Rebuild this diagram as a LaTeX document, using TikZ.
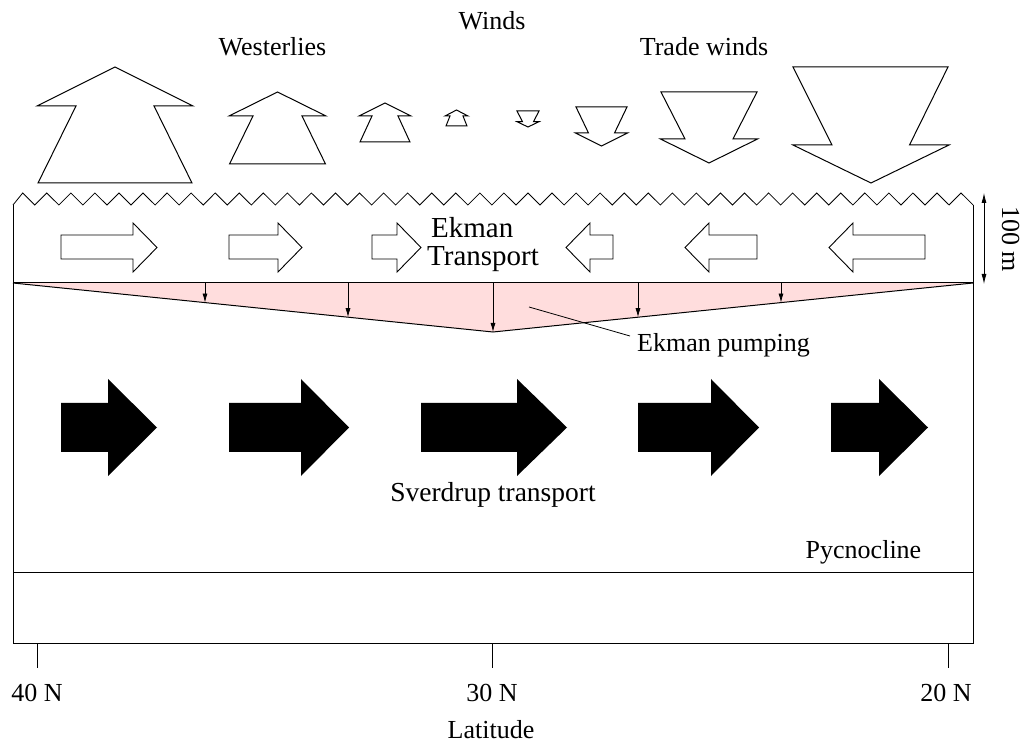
\documentclass[tikz,border=0pt]{standalone}
\usepackage{fontspec}
\setmainfont{Liberation Serif}
\usetikzlibrary{arrows.meta}
\definecolor{pumpfill}{RGB}{255,221,221}

\begin{document}
\begin{tikzpicture}[x=1pt,y=-1pt]

    \tikzstyle{ocean}+=[
        line width = 1pt
    ]
    \tikzstyle{wind}+=[
        draw,
        line width = 1pt,
        fill=white
    ]
    \tikzstyle{ekman}+=[
        draw,
        line width = 0.9pt,
        fill=white
    ]
    \tikzstyle{sverdrup}+=[
        fill=black
    ]
    \tikzstyle{pump}+=[
        -{Latex[length=9pt,width=5pt]},
        line width = 0.8pt
    ]
    \tikzstyle{depth}+=[
        {Latex[length=10pt,width=5pt]}-{Latex[length=10pt,width=5pt]},
        line width = 0.8pt
    ]
    \tikzstyle{txt}+=[
        font=\fontsize{26}{30}\selectfont,
        inner sep=0pt,
        anchor=base
    ]

    \useasboundingbox (0,0) rectangle (1021,743);

    % ----------------------------------------------------------------------------
    \coordinate(surfw) at (13,205);
    \coordinate(surfe) at (973,205);
    \coordinate(ekw) at (13,283);
    \coordinate(eke) at (973,283);
    \coordinate(pumpbot) at (493,332);
    \coordinate(pycw) at (13,572);
    \coordinate(pyce) at (973,572);
    \coordinate(botw) at (13,643);
    \coordinate(bote) at (973,643);
    \coordinate(depthtop) at (984,193);
    \coordinate(depthbot) at (984,284);
    \coordinate(pumpref) at (529,307);

    % ----------------------------------------------------------------------------
    \fill[pumpfill] (ekw) -- (eke) -- (pumpbot) -- cycle;
    \draw[ocean] (ekw) -- (pumpbot) -- (eke);
    \draw[ocean] (surfw) -- (botw) -- (bote) -- (surfe);
    \draw[ocean] (ekw) -- (eke);
    \draw[ocean] (pycw) -- (pyce);
    \draw[ocean,line width=0.8pt] (surfw) \foreach \k in {0,...,39} {
        -- ({22.7+24.06*\k},193) -- ({34.78+24.06*\k},205) };

    % ----------------------------------------------------------------------------
    \draw[pump] (205,283) -- (205,302.6);
    \draw[pump] (348,283) -- (348,317.2);
    \draw[pump] (493,283) -- (pumpbot);
    \draw[pump] (638,283) -- (638,317.2);
    \draw[pump] (781,283) -- (781,302.6);
    \draw[depth] (depthtop) -- (depthbot);

    % ----------------------------------------------------------------------------
    \draw[wind] (115,67) -- (193,106) -- (154,106) -- (192,183) -- (38,183) -- (76,106) -- (37,106) -- cycle;
    \draw[wind] (277.5,92) -- (326,116) -- (302,116) -- (325.5,164) -- (229.5,164) -- (253,116) -- (229,116) -- cycle;
    \draw[wind] (385,103) -- (411,116) -- (398,116) -- (410,142) -- (360,142) -- (372,116) -- (359,116) -- cycle;
    \draw[wind] (456.5,110) -- (468,116) -- (463,116) -- (467,126) -- (446,126) -- (450,116) -- (445,116) -- cycle;
    \draw[wind] (528,127) -- (539,121.7) -- (533.5,121.7) -- (539,111) -- (517,111) -- (522.5,121.7) -- (517,121.7) -- cycle;
    \draw[wind] (601.5,146) -- (627.5,133) -- (614.5,133) -- (627,107) -- (576,107) -- (588.5,133) -- (575.5,133) -- cycle;
    \draw[wind] (709,163) -- (757.5,139) -- (733,139) -- (757,92) -- (661,92) -- (685,139) -- (660.5,139) -- cycle;
    \draw[wind] (871,183) -- (949,145) -- (909.5,145) -- (948,67) -- (793,67) -- (832,145) -- (793,145) -- cycle;

    % ----------------------------------------------------------------------------
    \draw[ekman] (61,235) -- (133,235) -- (133,223) -- (157,247.5) -- (133,272) -- (133,259) -- (61,259) -- cycle;
    \draw[ekman] (229,235) -- (278,235) -- (278,223) -- (302,247.5) -- (278,272) -- (278,259) -- (229,259) -- cycle;
    \draw[ekman] (372,235) -- (397,235) -- (397,223) -- (421,247.5) -- (397,272) -- (397,259) -- (372,259) -- cycle;
    \draw[ekman] (613,235) -- (590,235) -- (590,223) -- (566,247.5) -- (590,272) -- (590,259) -- (613,259) -- cycle;
    \draw[ekman] (757,235) -- (709,235) -- (709,223) -- (685,247.5) -- (709,272) -- (709,259) -- (757,259) -- cycle;
    \draw[ekman] (925,235) -- (853,235) -- (853,223) -- (829,247.5) -- (853,272) -- (853,259) -- (925,259) -- cycle;

    % ----------------------------------------------------------------------------
    \fill[sverdrup] (61,403) -- (108,403) -- (108,379) -- (157,427.5) -- (108,476) -- (108,452) -- (61,452) -- cycle;
    \fill[sverdrup] (229,403) -- (301,403) -- (301,379) -- (349,427.5) -- (301,476) -- (301,452) -- (229,452) -- cycle;
    \fill[sverdrup] (421,403) -- (517,403) -- (517,379) -- (567,427.5) -- (517,476) -- (517,452) -- (421,452) -- cycle;
    \fill[sverdrup] (638,403) -- (711,403) -- (711,379) -- (759,427.5) -- (711,476) -- (711,452) -- (638,452) -- cycle;
    \fill[sverdrup] (831,403) -- (879,403) -- (879,379) -- (928,427.5) -- (879,476) -- (879,452) -- (831,452) -- cycle;

    % ----------------------------------------------------------------------------
    \draw[ocean] (37,643) -- (37,668);
    \draw[ocean] (492,643) -- (492,668);
    \draw[ocean] (948,643) -- (948,668);

    % ----------------------------------------------------------------------------
    \node[txt] (winds) at (492,30) {Winds};
    \node[txt] (westerlies) at (272.5,56) {Westerlies};
    \node[txt] (trade) at (704,56) {Trade winds};
    \node[txt,font=\fontsize{29}{32}\selectfont,anchor=base west] (ekmantop) at (431,238) {Ekman};
    \node[txt,font=\fontsize{29}{32}\selectfont,anchor=base west] (ekmanbot) at (427,266) {Transport};
    \node[txt,anchor=base west] (pumping) at (637,352) {Ekman pumping};
    \node[txt,font=\fontsize{27.5}{30}\selectfont] (sverdruplabel) at (493,501) {Sverdrup transport};
    \node[txt] (pycno) at (863.5,558) {Pycnocline};
    \node[txt] (lat40) at (37,701) {40 N};
    \node[txt] (lat30) at (492,701) {30 N};
    \node[txt] (lat20) at (946,701) {20 N};
    \node[txt] (latitude) at (491,738) {Latitude};
    \node[txt,rotate=-90] (depthlabel) at (1002,239) {100 m};

    % ----------------------------------------------------------------------------
    \draw[line width = 0.8pt] (pumpref) -- ([shift={(-7,-16)}]pumping.base west);

\end{tikzpicture}
\end{document}
